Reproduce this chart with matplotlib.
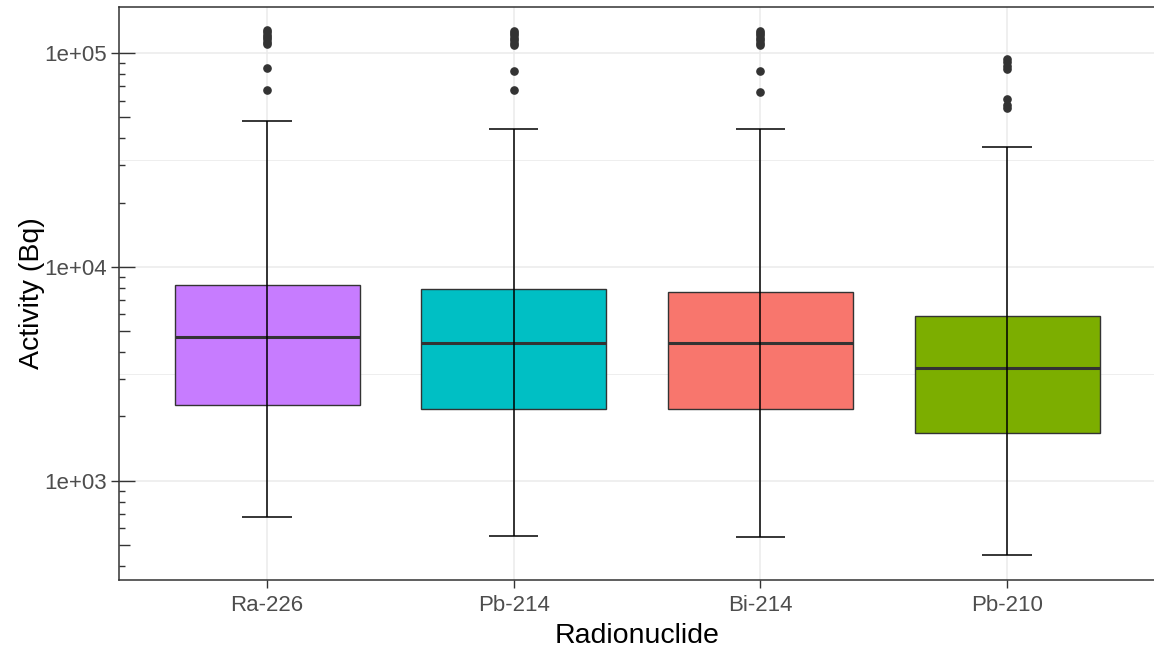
import numpy as np
import matplotlib
matplotlib.use("Agg")
import matplotlib.pyplot as plt

plt.rcParams['font.family'] = ['Liberation Sans', 'DejaVu Sans']

# Radionuclide activity summaries (Bq)
nuclides = ["Ra-226", "Pb-214", "Bi-214", "Pb-210"]
colors = ["#C77CFF", "#00BFC4", "#F8766D", "#7CAE00"]
q1 = [2270, 2173, 2173, 1678]
median = [4727, 4430, 4430, 3382]
q3 = [8280, 7925, 7670, 5928]
whisker_low = [678, 552, 547, 450]
whisker_high = [48040, 44060, 44000, 36280]
outliers = [
    [67080, 85060, 110000, 113000, 116000, 119000, 122000, 125000, 128000],
    [67080, 82380, 109000, 112000, 115000, 118000, 121000, 124000, 127000],
    [65640, 82380, 109000, 112000, 115000, 118000, 121000, 124000, 127000],
    [55220, 57500, 60880, 84500, 87500, 90500, 93500],
]
y_major = [1e3, 1e4, 1e5]
y_major_labels = ["1e+03", "1e+04", "1e+05"]

fig = plt.figure(figsize=(11.54, 6.47), dpi=100)
ax = fig.add_axes([119 / 1154, 1 - 580 / 647, 1036 / 1154, 573 / 647])
ax.set_yscale("log")
ax.set_xlim(0.4, 4.6)
ax.set_ylim(343.9, 164300)

pos = np.arange(1, len(nuclides) + 1)

# panel grid
for v in y_major:
    ax.axhline(v, color="#EBEBEB", lw=1.1, zorder=0)
for v in [10 ** 3.5, 10 ** 4.5]:
    ax.axhline(v, color="#EBEBEB", lw=0.6, zorder=0)
for p in pos:
    ax.axvline(p, color="#EBEBEB", lw=1.1, zorder=0)

stats = []
for i in range(len(nuclides)):
    stats.append(dict(med=median[i], q1=q1[i], q3=q3[i],
                      whislo=whisker_low[i], whishi=whisker_high[i],
                      fliers=outliers[i], label=nuclides[i]))

bp = ax.bxp(stats, positions=pos, widths=0.75, patch_artist=True,
            showcaps=False,
            boxprops=dict(edgecolor="#333333", lw=1.0),
            whiskerprops=dict(lw=0),
            medianprops=dict(color="#333333", lw=2.2),
            flierprops=dict(marker="o", markersize=5.2, markerfacecolor="#333333",
                            markeredgecolor="#333333", linestyle="none"))
for patch, c in zip(bp["boxes"], colors):
    patch.set_facecolor(c)
    patch.set_zorder(2)
for m in bp["medians"]:
    m.set_zorder(3)

# error-bar style whiskers drawn over the boxes
ax.vlines(pos, whisker_low, whisker_high, color="black", lw=1.1, zorder=4)
ax.hlines(whisker_low, pos - 0.1, pos + 0.1, color="black", lw=1.1, zorder=4)
ax.hlines(whisker_high, pos - 0.1, pos + 0.1, color="black", lw=1.1, zorder=4)

# axes styling
for s in ax.spines.values():
    s.set_color("#333333")
    s.set_linewidth(1.1)
    s.set_zorder(5)

ax.set_xticks(pos)
ax.set_xticklabels(nuclides)
ax.yaxis.set_major_locator(matplotlib.ticker.FixedLocator(y_major))
ax.yaxis.set_major_formatter(matplotlib.ticker.FixedFormatter(y_major_labels))
ax.yaxis.set_minor_locator(matplotlib.ticker.NullLocator())
ax.tick_params(axis="both", which="major", direction="out", length=5.5,
               width=1.0, color="#333333", labelsize=16, labelcolor="#4D4D4D")
ax.tick_params(axis="x", pad=5)
ax.tick_params(axis="y", pad=3)

# log ticks along the left edge
ytr = ax.get_yaxis_transform()
lo, hi = ax.get_ylim()
for k in range(2, 6):
    for m in range(1, 10):
        v = m * 10 ** k
        if v < lo or v > hi:
            continue
        if m == 1:
            L = 16 / 1036
        elif m == 5:
            L = 11 / 1036
        else:
            L = 6 / 1036
        ax.plot([0, L], [v, v], transform=ytr, color="#333333", lw=1.0,
                clip_on=False, zorder=6, solid_capstyle="butt")

ax.set_xlabel("Radionuclide", fontsize=20.5, color="black", labelpad=5)
ax.set_ylabel("Activity (Bq)", fontsize=20.5, color="black", labelpad=0)

fig.savefig("out.png", dpi=100, facecolor="white")
